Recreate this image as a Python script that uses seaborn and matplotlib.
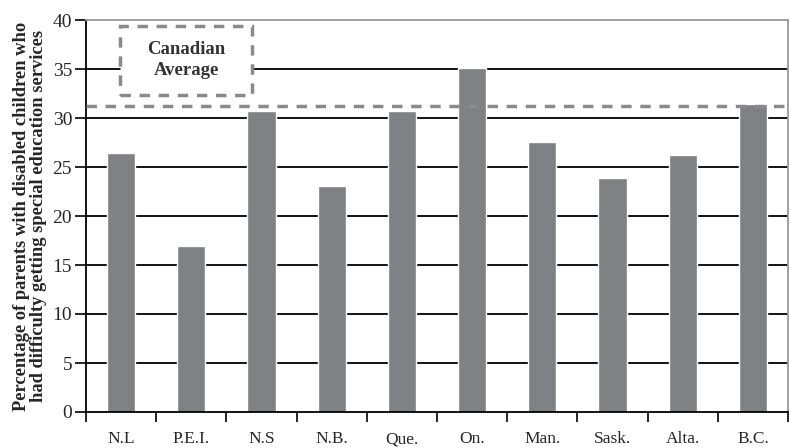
import seaborn as sns
import numpy as np
import pandas as pd
import matplotlib.pyplot as plt
from matplotlib.patches import Rectangle

provinces = ['N.L', 'P.E.I.', 'N.S', 'N.B.', 'Que.', 'On.', 'Man.', 'Sask.', 'Alta.', 'B.C.']
percent = [26.4, 16.9, 30.7, 23.1, 30.7, 35.1, 27.6, 23.9, 26.2, 31.4]
canadian_average = 31.2
y_ticks = [0, 5, 10, 15, 20, 25, 30, 35, 40]

df = pd.DataFrame({'province': provinces, 'percent': percent})

sns.set_style('white')
plt.rcParams['font.family'] = ['Liberation Serif', 'DejaVu Serif']
plt.rcParams['xtick.bottom'] = True
plt.rcParams['ytick.left'] = True

fig = plt.figure(figsize=(7.9, 4.48), dpi=100)
ax = fig.add_axes([86 / 790, 1 - 412 / 448, (788 - 86) / 790, (412 - 20) / 448])

# grid lines behind bars
for t in y_ticks[1:-1]:
    ax.axhline(t, color='black', lw=1.3, zorder=0)

sns.barplot(data=df, x='province', y='percent', color='#808184', width=0.4,
            saturation=1, ax=ax, zorder=2)

ax.axhline(canadian_average, color='#8a8a8a', lw=2.5, ls=(0, (3, 2.5)), zorder=3)

ax.set_ylim(0, 40)
ax.set_xlim(-0.5, len(provinces) - 0.5)
ax.set_yticks(y_ticks)
ax.set_yticklabels([str(t) for t in y_ticks], fontsize=14)

# x ticks between categories, labels at centers
ax.set_xticks(np.arange(len(provinces)))
ax.set_xticklabels(provinces, fontsize=12.5)
ax.set_xticks(np.arange(-0.5, len(provinces), 1.0), minor=True)
ax.tick_params(axis='x', which='major', bottom=False, length=0, pad=14)
ax.tick_params(axis='x', which='minor', bottom=True, length=7, width=1.2, color='black', direction='out')
ax.tick_params(axis='y', left=True, length=8, width=1.2, color='black', direction='out', pad=2)

for side in ['left', 'bottom']:
    ax.spines[side].set_color('black')
    ax.spines[side].set_linewidth(1.3)
for side in ['top', 'right']:
    ax.spines[side].set_color('#9a9a9a')
    ax.spines[side].set_linewidth(1.3)

ax.set_xlabel('')
ax.set_ylabel('Percentage of parents with disabled children who\nhad difficulty getting special education services',
              fontsize=13.3, fontweight='bold', linespacing=1.0, labelpad=4)

# legend box for the average line
box = Rectangle((120 / 790, 1 - 95 / 448), (252 - 120) / 790, (95 - 26) / 448,
                transform=fig.transFigure, facecolor='white', edgecolor='#8a8a8a',
                lw=2.5, ls=(0, (3, 2.5)), zorder=5)
fig.patches.append(box)
fig.text(186 / 790, 1 - 60 / 448, 'Canadian\nAverage', ha='center', va='center',
         fontsize=13.5, fontweight='bold', linespacing=1.25, color='#333333', zorder=10)

plt.savefig('out.png', dpi=100)
